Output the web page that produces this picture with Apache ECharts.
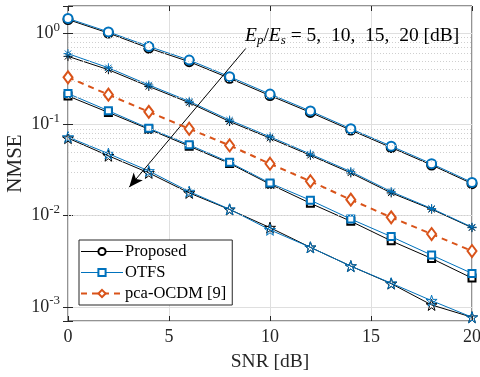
<!DOCTYPE html>
<html>
<head>
<meta charset="utf-8">
<script src="https://cdn.jsdelivr.net/npm/echarts@6/dist/echarts.min.js"></script>
<style>
  html, body { margin: 0; padding: 0; background: #fff; }
  #chart { width: 480px; height: 377px; }
</style>
</head>
<body>
<div id="chart"></div>
<script>
// NMSE vs SNR, four Ep/Es groups (5,10,15,20 dB) for Proposed / OTFS,
// one pca-OCDM reference curve. MATLAB-ish look.
const snr = [0, 2, 4, 6, 8, 10, 12, 14, 16, 18, 20];

const proposed5 = [1.42, 1.01, 0.69, 0.49, 0.322, 0.208, 0.136, 0.087, 0.056, 0.036, 0.0225];
const otfs5 = [1.46, 1.04, 0.72, 0.51, 0.335, 0.216, 0.141, 0.090, 0.058, 0.0372, 0.0232];

const proposed10 = [0.56, 0.40, 0.262, 0.174, 0.108, 0.071, 0.046, 0.0295, 0.0178, 0.0118, 0.0074];
const otfs10 = [0.60, 0.42, 0.272, 0.180, 0.112, 0.0735, 0.0475, 0.0305, 0.0184, 0.0120, 0.0075];

const pcaOcdm = [0.33, 0.213, 0.138, 0.090, 0.059, 0.0372, 0.0239, 0.0150, 0.0096, 0.0063, 0.0041];

const proposed15 = [0.206, 0.136, 0.089, 0.058, 0.0375, 0.0222, 0.0137, 0.0087, 0.0053, 0.0034, 0.00207];
const otfs15 = [0.219, 0.142, 0.091, 0.060, 0.0385, 0.0228, 0.0148, 0.0092, 0.0059, 0.0037, 0.00233];

const proposed20 = [0.071, 0.0455, 0.0295, 0.0178, 0.0117, 0.0074, 0.0045, 0.0028, 0.0018, 0.00105, 0.00077];
const otfs20 = [0.073, 0.048, 0.031, 0.0184, 0.0118, 0.0070, 0.0045, 0.0028, 0.00182, 0.00117, 0.00077];

const xTicks = [0, 5, 10, 15, 20];
const yMin = 7e-4;
const yMax = 2;

// arrow annotation, in data coordinates
const arrowFrom = [8.8, 0.684];
const arrowTo = [3.03, 0.0206];
const noteText = " = 5,  10,  15,  20 [dB]";

const BLACK = "#000000";
const BLUE = "#0072BD";
const ORANGE = "#D95319";
const AXIS = "#262626";
const GRID = "#dfdfdf";
const FONT = "'Liberation Serif', 'Times New Roman', serif";

const ASTERISK = "path://M5,0L5,10M0,5L10,5M1.5,1.5L8.5,8.5M8.5,1.5L1.5,8.5";
const PENTAGRAM =
  "path://M10,0L12.25,6.91L19.51,6.91L13.63,11.18L15.88,18.09L10,13.82L4.12,18.09L6.37,11.18L0.49,6.91L7.75,6.91Z";

// minor log grid (2..9 x 10^k)
const minorY = [];
for (let k = -4; k <= 0; k++) {
  for (let m = 2; m <= 9; m++) {
    const v = m * Math.pow(10, k);
    if (v > yMin * 1.001 && v < yMax * 0.999) minorY.push(v);
  }
}

const pairs = (ys) => snr.map((x, i) => [x, ys[i]]);

function curve(name, ys, color, symbol, size, z, extra) {
  const hollow = symbol.startsWith("path://");
  return Object.assign(
    {
      name,
      type: "line",
      data: pairs(ys),
      symbol,
      symbolSize: size,
      showAllSymbol: true,
      z,
      lineStyle: { color, width: 1 },
      itemStyle: hollow
        ? { color: "rgba(255,255,255,0)", borderColor: color, borderWidth: 1 }
        : { color, borderWidth: 1 },
      emphasis: { disabled: true },
      animation: false,
    },
    extra || {}
  );
}

const chart = echarts.init(document.getElementById("chart"), null, { renderer: "canvas" });

const axisTick = { inside: true, length: 5, lineStyle: { color: AXIS } };

chart.setOption({
  backgroundColor: "#fff",
  animation: false,
  textStyle: { fontFamily: FONT },
  grid: {
    left: 68, right: 8, top: 6, bottom: 56,
    containLabel: false,
    outerBoundsMode: "none",
    show: true, borderColor: AXIS, borderWidth: 1,
  },
  legend: {
    data: ["Proposed", "OTFS", "pca-OCDM [9]"],
    orient: "vertical",
    left: 79,
    top: 240,
    backgroundColor: "#fff",
    borderColor: AXIS,
    borderWidth: 1,
    padding: [3, 6, 3, 1],
    itemWidth: 42,
    itemHeight: 9,
    itemGap: 4,
    selectedMode: false,
    lineStyle: { width: "inherit" },
    itemStyle: { borderWidth: "inherit" },
    textStyle: { fontFamily: FONT, fontSize: 16.5, color: BLACK, padding: [0, 0, 0, -3] },
  },
  xAxis: [
    {
      type: "value",
      min: xTicks[0],
      max: xTicks[xTicks.length - 1],
      interval: 5,
      name: "SNR [dB]",
      nameLocation: "middle",
      nameGap: 31,
      nameMoveOverlap: false,
      nameTextStyle: { fontFamily: FONT, fontSize: 19.5, color: AXIS },
      axisLine: { show: false },
      axisTick,
      axisLabel: { fontFamily: FONT, fontSize: 18, color: AXIS, margin: 7 },
      splitLine: { lineStyle: { color: GRID, width: 1 } },
    },
    {
      type: "value",
      position: "top",
      min: xTicks[0],
      max: xTicks[xTicks.length - 1],
      interval: 5,
      axisLine: { show: false },
      axisTick,
      axisLabel: { show: false },
      splitLine: { show: false },
    },
  ],
  yAxis: [
    {
      type: "log",
      logBase: 10,
      min: yMin,
      max: yMax,
      name: "NMSE",
      nameLocation: "middle",
      nameGap: 42,
      nameMoveOverlap: false,
      nameTextStyle: { fontFamily: FONT, fontSize: 21, color: AXIS },
      axisLine: { show: false },
      axisTick,
      axisLabel: {
        margin: 8,
        formatter: (v) => {
          const e = Math.log10(v);
          const r = Math.round(e);
          if (Math.abs(e - r) > 1e-6) return "";
          return "{b|10}{s|" + r + "}";
        },
        rich: {
          b: { fontFamily: FONT, fontSize: 18, color: AXIS },
          s: { fontFamily: FONT, fontSize: 13, color: AXIS, padding: [0, 0, 12, 0] },
        },
      },
      splitLine: { lineStyle: { color: GRID, width: 1 } },
    },
    {
      type: "log",
      logBase: 10,
      min: yMin,
      max: yMax,
      position: "right",
      axisLine: { show: false },
      axisTick,
      axisLabel: { show: false },
      splitLine: { show: false },
    },
  ],
  graphic: [
    {
      type: "text",
      left: 245,
      top: 26,
      style: {
        text: "{i|E}{sub|p}{n|/}{i|E}{sub|s}{n|" + noteText + "}",
        rich: {
          i: { fontFamily: FONT, fontStyle: "italic", fontSize: 19.5, fill: BLACK },
          sub: { fontFamily: FONT, fontStyle: "italic", fontSize: 13, fill: BLACK, padding: [9, 0, 0, 0] },
          n: { fontFamily: FONT, fontSize: 19.5, fill: BLACK },
        },
      },
      z: 100,
    },
  ],
  series: [
    // helper: minor grid + arrow
    {
      name: "helper",
      type: "line",
      data: [],
      z: 1,
      silent: true,
      markLine: {
        silent: true,
        animation: false,
        symbol: "none",
        label: { show: false },
        lineStyle: { color: "#cfcfcf", type: [1, 2], width: 1 },
        data: minorY.map((v) => ({ yAxis: v })),
      },
    },
    {
      name: "arrow",
      type: "line",
      data: [],
      z: 20,
      silent: true,
      markLine: {
        silent: true,
        animation: false,
        symbol: ["none", "arrow"],
        symbolSize: [9, 14],
        label: { show: false },
        lineStyle: { color: BLACK, type: "solid", width: 1 },
        data: [[{ coord: arrowFrom }, { coord: arrowTo }]],
      },
    },
    curve("Proposed", proposed5, BLACK, "emptyCircle", 9, 3),
    curve("OTFS", otfs15, BLUE, "emptySquare", 7, 4),
    curve("pca-OCDM [9]", pcaOcdm, ORANGE, "emptyDiamond", [9, 12], 5, {
      lineStyle: { color: ORANGE, width: 2, type: [6, 5] },
      itemStyle: { color: ORANGE, borderWidth: 2 },
    }),
    curve("OTFS", otfs5, BLUE, "emptyCircle", 9, 4),
    curve("Proposed", proposed10, BLACK, ASTERISK, 9, 3),
    curve("OTFS", otfs10, BLUE, ASTERISK, 9, 4),
    curve("Proposed", proposed15, BLACK, "emptySquare", 7, 3),
    curve("Proposed", proposed20, BLACK, PENTAGRAM, 11, 3),
    curve("OTFS", otfs20, BLUE, PENTAGRAM, 11, 4),
  ],
});
</script>
</body>
</html>
